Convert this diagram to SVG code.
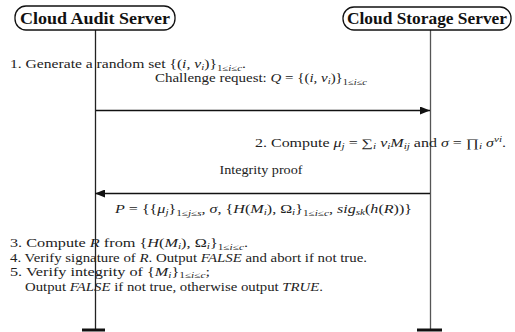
<svg xmlns="http://www.w3.org/2000/svg" width="515" height="332" viewBox="0 0 515 332">
<style>
text{fill:#222;font-size:11.5px}
.t{font-weight:bold;font-size:16px;fill:#111}
.i{font-style:italic}
.s{font-size:8px}
.box{fill:#fff;stroke:#111;stroke-width:1.3}
.ll{stroke:#222;stroke-width:1.3;fill:none}
.end{stroke:#111;stroke-width:3}
.msg{stroke:#111;stroke-width:1.3;fill:none}
</style>
<defs>
<marker id="ah" viewBox="0 0 10 8" refX="10" refY="4" markerWidth="10" markerHeight="8" markerUnits="userSpaceOnUse" orient="auto">
<path d="M0,0 L10,4 L0,8 Z" fill="#111"/>
</marker>
</defs>
<g id="lifelines">
<line class="ll" x1="95.5" y1="30" x2="95.5" y2="330"/>
<line class="ll" x1="430.5" y1="30" x2="430.5" y2="330" style="stroke:#555"/>
<line class="end" x1="82" y1="330" x2="105" y2="330"/>
<line class="end" x1="417" y1="330" x2="442" y2="330"/>
</g>
<g font-family="'Liberation Serif', 'DejaVu Serif', 'Noto Serif', 'Times New Roman', serif">
<g id="audit">
<rect class="box" x="15" y="6" width="160" height="24" rx="11"/>
<text class="t" x="95" y="24" text-anchor="middle" textLength="150" lengthAdjust="spacingAndGlyphs">Cloud Audit Server</text>
</g>
<g id="storage">
<rect class="box" x="343" y="7" width="168" height="23" rx="11"/>
<text class="t" x="427" y="24" text-anchor="middle" textLength="160" lengthAdjust="spacingAndGlyphs">Cloud Storage Server</text>
</g>
<g id="connectors">
<line class="msg" x1="96" y1="110.5" x2="430" y2="110.5" marker-end="url(#ah)"/>
<line class="msg" x1="430" y1="193.5" x2="95" y2="193.5" marker-end="url(#ah)"/>
</g>
<g id="labels">
<text x="10" y="68" textLength="236" lengthAdjust="spacingAndGlyphs">1. Generate a random set {(<tspan class="i">i</tspan>, <tspan class="i">ν</tspan><tspan class="s i" dy="2">i</tspan><tspan dy="-2">)}</tspan><tspan class="s" dy="3">1≤<tspan class="i">i</tspan>≤<tspan class="i">c</tspan></tspan><tspan dy="-3">.</tspan></text>
<text x="155" y="82" textLength="212" lengthAdjust="spacingAndGlyphs">Challenge request: <tspan class="i">Q</tspan> = {(<tspan class="i">i</tspan>, <tspan class="i">ν</tspan><tspan class="s i" dy="2">i</tspan><tspan dy="-2">)}</tspan><tspan class="s" dy="3">1≤<tspan class="i">i</tspan>≤<tspan class="i">c</tspan></tspan></text>
<text x="255" y="147" textLength="251" lengthAdjust="spacingAndGlyphs">2. Compute <tspan class="i">μ</tspan><tspan class="s i" dy="2">j</tspan><tspan dy="-2"> = ∑</tspan><tspan class="s i" dy="2">i</tspan><tspan class="i" dy="-2"> ν</tspan><tspan class="s i" dy="2">i</tspan><tspan class="i" dy="-2">M</tspan><tspan class="s i" dy="2">ij</tspan><tspan dy="-2"> and </tspan><tspan class="i">σ</tspan> = ∏<tspan class="s i" dy="2">i</tspan><tspan class="i" dy="-2"> σ</tspan><tspan class="s i" dy="-5">ν</tspan><tspan class="s i" dy="0">i</tspan><tspan dy="5">.</tspan></text>
<text x="261" y="174" text-anchor="middle" textLength="83" lengthAdjust="spacingAndGlyphs">Integrity proof</text>
<text x="115" y="213" textLength="297" lengthAdjust="spacingAndGlyphs"><tspan class="i">P</tspan> = {{<tspan class="i">μ</tspan><tspan class="s i" dy="2">j</tspan><tspan dy="-2">}</tspan><tspan class="s" dy="3">1≤<tspan class="i">j</tspan>≤<tspan class="i">s</tspan></tspan><tspan dy="-3">, </tspan><tspan class="i">σ</tspan>, {<tspan class="i">H</tspan>(<tspan class="i">M</tspan><tspan class="s i" dy="2">i</tspan><tspan dy="-2">), Ω</tspan><tspan class="s i" dy="2">i</tspan><tspan dy="-2">}</tspan><tspan class="s" dy="3">1≤<tspan class="i">i</tspan>≤<tspan class="i">c</tspan></tspan><tspan dy="-3">, </tspan><tspan class="i">sig</tspan><tspan class="s i" dy="2">sk</tspan><tspan dy="-2">(</tspan><tspan class="i">h</tspan>(<tspan class="i">R</tspan>))}</text>
<text x="10" y="247" textLength="238" lengthAdjust="spacingAndGlyphs">3. Compute <tspan class="i">R</tspan> from {<tspan class="i">H</tspan>(<tspan class="i">M</tspan><tspan class="s i" dy="2">i</tspan><tspan dy="-2">), Ω</tspan><tspan class="s i" dy="2">i</tspan><tspan dy="-2">}</tspan><tspan class="s" dy="3">1≤<tspan class="i">i</tspan>≤<tspan class="i">c</tspan></tspan><tspan dy="-3">.</tspan></text>
<text x="10" y="262" textLength="357" lengthAdjust="spacingAndGlyphs">4. Verify signature of <tspan class="i">R</tspan>. Output <tspan class="i">FALSE</tspan> and abort if not true.</text>
<text x="10" y="276" textLength="200" lengthAdjust="spacingAndGlyphs">5. Verify integrity of {<tspan class="i">M</tspan><tspan class="s i" dy="1.5">i</tspan><tspan dy="-1.5">}</tspan><tspan class="s" dy="2">1≤<tspan class="i">i</tspan>≤<tspan class="i">c</tspan></tspan><tspan dy="-2">;</tspan></text>
<text x="25" y="291" textLength="298" lengthAdjust="spacingAndGlyphs">Output <tspan class="i">FALSE</tspan> if not true, otherwise output <tspan class="i">TRUE</tspan>.</text>
</g>
</g>
</svg>
